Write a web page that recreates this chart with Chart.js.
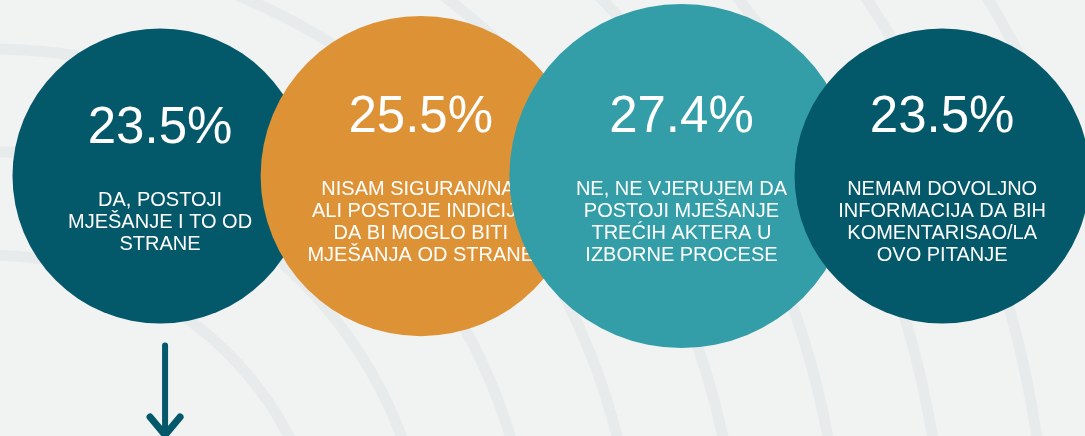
<!DOCTYPE html>
<html>
<head>
<meta charset="utf-8">
<script src="https://cdn.jsdelivr.net/npm/chart.js@4"></script>
<style>
  html, body { margin: 0; padding: 0; background: #f1f2f2; }
  #wrap { width: 1085px; height: 436px; position: relative; }
</style>
</head>
<body>
<div id="wrap"><canvas id="bubbles"></canvas></div>
<script>
// answers, one circle each
let categories = [
  ["DA, POSTOJI", "MJEŠANJE I TO OD", "STRANE"],
  ["NISAM SIGURAN/NA,", "ALI POSTOJE INDICIJE", "DA BI MOGLO BITI", "MJEŠANJA OD STRANE"],
  ["NE, NE VJERUJEM DA", "POSTOJI MJEŠANJE", "TREĆIH AKTERA U", "IZBORNE PROCESE"],
  ["NEMAM DOVOLJNO", "INFORMACIJA DA BIH", "KOMENTARISAO/LA", "OVO PITANJE"]
];
let values = [23.5, 25.5, 27.4, 23.5];
let colors = ["#03586a", "#de9236", "#339ea8", "#03586a"];

// px of radius per percent point
let radiusScale = 6.28;

// faint arcs behind everything
const backdrop = {
  id: "backdrop",
  beforeDraw(chart) {
    const c = chart.ctx;
    c.save();
    c.fillStyle = "#f1f2f2";
    c.fillRect(0, 0, chart.width, chart.height);
    c.strokeStyle = "#e8ebec";
    c.lineWidth = 11;
    for (let k = 0; k < 10; k++) {
      c.beginPath();
      c.arc(-10, 592, 337 + 103 * k, 0, Math.PI * 2);
      c.stroke();
    }
    c.restore();
  }
};

// text goes right after each circle so the next circle covers it
const circleText = {
  id: "circleText",
  afterDatasetDraw(chart, args) {
    const i = args.index;
    const el = args.meta.data[0];
    const lines = categories[i];
    const c = chart.ctx;
    const capPct = 37, gap = 49, capLbl = 14, lh = 22.3;
    const h = capPct + gap + (lines.length - 1) * lh + capLbl;
    const top = el.y + 2 - h / 2;
    c.save();
    c.fillStyle = "#ffffff";
    c.textAlign = "center";
    c.textBaseline = "alphabetic";
    c.font = '51px "Liberation Sans"';
    c.fillText(values[i].toFixed(1) + "%", el.x, top + capPct);
    c.font = '20px "Liberation Sans"';
    lines.forEach(function(t, j) {
      c.fillText(t, el.x, top + capPct + gap + capLbl + j * lh);
    });
    c.restore();
  },
  afterDraw(chart) {
    // arrow under the first circle
    const el = chart.getDatasetMeta(0).data[0];
    const c = chart.ctx;
    const x = el.x + 5;
    const y0 = el.y + values[0] * radiusScale + 22;
    const yEnd = chart.height - 1;
    c.save();
    c.strokeStyle = colors[0];
    c.lineCap = "round";
    c.lineJoin = "round";
    c.lineWidth = 6;
    c.beginPath();
    c.moveTo(x, y0);
    c.lineTo(x, yEnd);
    c.stroke();
    c.lineWidth = 7;
    c.beginPath();
    c.moveTo(x - 15, yEnd - 18);
    c.lineTo(x, yEnd);
    c.lineTo(x + 15, yEnd - 18);
    c.stroke();
    c.restore();
  }
};

let ctx = document.getElementById("bubbles").getContext("2d");
let bubbleChart = new Chart(ctx, {
  type: "bubble",
  data: {
    datasets: values.map(function(v, i) {
      return {
        label: categories[i].join(" "),
        data: [{ x: i, y: 0, r: v * radiusScale }],
        backgroundColor: colors[i],
        borderWidth: 0,
        hoverRadius: 0,
        clip: false,
        order: values.length - i
      };
    })
  },
  options: {
    responsive: true,
    maintainAspectRatio: false,
    animation: false,
    events: [],
    layout: { padding: 0, autoPadding: false },
    plugins: {
      legend: { display: false },
      tooltip: { enabled: false }
    },
    scales: {
      x: { type: "linear", min: -0.614, max: 3.548, display: false },
      y: { type: "linear", min: -1.477, max: 1, display: false }
    }
  },
  plugins: [backdrop, circleText]
});
</script>
</body>
</html>
